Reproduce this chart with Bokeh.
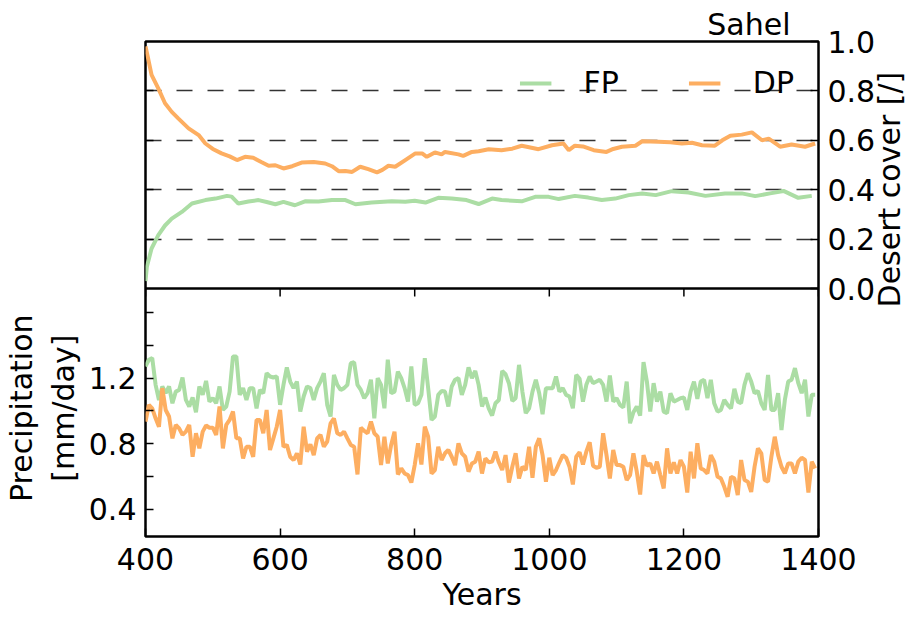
import math
from bokeh.plotting import figure
from bokeh.models import (Range1d, LinearAxis, FixedTicker, Legend, LegendItem, Grid, Span,
                          CustomJSTickFormatter, NumeralTickFormatter)
from bokeh.embed import file_html
from bokeh.resources import INLINE

# ---------------- data ----------------
# Desert cover (top panel)
dp_cover_years = [400, 404, 409, 419, 429, 439, 449, 464, 479, 489, 500, 513, 525, 536, 548, 560,
                  572, 583, 593, 605, 618, 632, 650, 667, 677, 687, 697, 707, 719, 731, 744, 752,
                  761, 771, 786, 801, 811, 818, 830, 840, 845, 865, 872, 885, 895, 910, 929, 945,
                  959, 970, 984, 1004, 1021, 1029, 1038, 1050, 1066, 1085, 1095, 1108, 1128, 1138,
                  1162, 1180, 1197, 1212, 1227, 1246, 1257, 1269, 1286, 1301, 1316, 1326, 1343,
                  1360, 1380, 1395]
dp_cover = [0.98, 0.93, 0.865, 0.81, 0.75, 0.715, 0.688, 0.648, 0.621, 0.587, 0.565, 0.547, 0.535,
            0.520, 0.533, 0.529, 0.512, 0.497, 0.499, 0.486, 0.495, 0.510, 0.512, 0.506, 0.495,
            0.475, 0.476, 0.472, 0.493, 0.483, 0.470, 0.480, 0.497, 0.493, 0.520, 0.547, 0.547,
            0.533, 0.551, 0.543, 0.553, 0.543, 0.537, 0.553, 0.556, 0.564, 0.560, 0.566, 0.578,
            0.572, 0.564, 0.580, 0.587, 0.560, 0.578, 0.575, 0.560, 0.553, 0.565, 0.574, 0.578,
            0.596, 0.594, 0.592, 0.587, 0.590, 0.580, 0.578, 0.600, 0.618, 0.623, 0.632, 0.600,
            0.607, 0.574, 0.583, 0.574, 0.587]

fp_cover_years = [400, 402, 409, 419, 429, 439, 454, 469, 489, 504, 521, 528, 538, 553, 568, 580,
                  593, 605, 622, 637, 657, 677, 697, 712, 736, 766, 786, 800, 816, 835, 855, 877,
                  895, 915, 929, 959, 979, 999, 1014, 1038, 1058, 1078, 1098, 1118, 1138, 1158,
                  1182, 1207, 1232, 1261, 1286, 1306, 1328, 1348, 1370, 1390]
fp_cover = [0.03, 0.088, 0.162, 0.216, 0.255, 0.283, 0.310, 0.344, 0.358, 0.364, 0.375, 0.372,
            0.344, 0.352, 0.358, 0.350, 0.341, 0.351, 0.337, 0.353, 0.352, 0.358, 0.358, 0.341,
            0.348, 0.353, 0.351, 0.355, 0.348, 0.367, 0.364, 0.358, 0.342, 0.364, 0.358, 0.353,
            0.371, 0.371, 0.362, 0.375, 0.368, 0.358, 0.364, 0.378, 0.385, 0.378, 0.394, 0.389,
            0.375, 0.385, 0.385, 0.374, 0.385, 0.395, 0.367, 0.375]

# Precipitation (bottom panel), every 5 years
precip_years = list(range(400, 1400, 5))
fp_precip = [
    1.271, 1.312, 1.322, 1.159, 1.067, 1.149, 1.108, 1.149, 1.047, 1.118,
    1.128, 1.204, 1.067, 1.027, 1.082, 0.992, 1.149, 1.098, 1.183, 1.057,
    1.078, 1.047, 1.149, 1.006, 1.027, 1.118, 1.332, 1.332, 1.098, 1.139,
    1.067, 1.139, 1.139, 1.016, 1.128, 1.108, 1.230, 1.210, 1.204, 1.210,
    1.037, 1.159, 1.265, 1.179, 1.139, 1.179, 0.996, 1.088, 1.149, 1.139,
    1.067,
    1.139, 1.179, 1.230, 1.037, 0.966, 1.220, 1.159, 1.128, 1.139, 1.159,
    1.291, 1.297, 1.159, 1.128, 1.078, 1.108, 1.190, 0.955, 1.200, 1.159,
    1.016, 1.312, 1.108, 1.118, 1.240, 1.200, 1.139, 1.057, 1.271, 1.037,
    1.047, 1.098, 1.322, 1.139, 0.945, 0.966, 1.098, 1.122, 1.118, 1.027,
    1.149, 1.190, 1.200, 1.098, 1.159, 1.265, 1.200, 1.244, 1.159, 1.027,
    1.082,
    1.016, 0.972, 1.047, 1.067, 1.244, 1.224, 1.169, 1.061, 1.078, 1.281,
    1.118, 0.986, 1.016, 1.118, 1.190, 1.108, 0.980, 1.139, 1.139, 1.139,
    1.210, 1.118, 1.139, 1.098, 1.088, 1.016, 1.220, 1.196, 1.057, 1.159,
    1.210, 1.169, 1.179, 1.190, 1.159, 1.057, 1.216, 1.057, 1.078, 1.037,
    1.021, 1.179, 0.925, 0.992, 1.027, 0.972, 1.297, 1.179, 0.996, 1.169,
    1.057, 1.118, 0.996, 0.986, 1.108, 1.057, 1.067, 1.078, 1.082, 1.006,
    1.118, 1.179, 1.073, 1.179, 1.190, 1.078, 1.190, 1.047, 0.996, 1.006,
    1.067, 1.037, 1.016, 1.135, 1.057, 1.047, 1.159, 1.230, 1.179, 1.108,
    1.122, 1.047, 1.006, 1.220, 1.006, 1.006, 1.108, 0.884, 1.067, 1.179,
    1.190, 1.261, 1.169, 1.108, 1.190, 0.966, 1.098, 1.098]
dp_precip = [
    0.935, 1.037, 1.016, 0.955, 0.904, 1.139, 1.006, 0.966, 0.833, 0.915,
    0.894, 0.854, 0.874, 0.915, 0.721, 0.864, 0.772, 0.874, 0.911, 0.898,
    0.898, 0.854, 1.027, 0.772, 0.915, 0.945, 0.996, 0.833, 0.833, 0.711,
    0.782, 0.782, 0.721, 0.945, 0.945, 0.864, 1.006, 0.762, 0.833, 0.904,
    1.006, 0.782, 0.793, 0.721, 0.701, 0.742, 0.674, 0.904, 0.752, 0.797,
    0.731,
    0.833, 0.854, 0.782, 0.813, 0.925, 0.955, 0.864, 0.854, 0.874, 0.833,
    0.793, 0.782, 0.613, 0.898, 0.878, 0.864, 0.935, 0.864, 0.843, 0.670,
    0.843, 0.680, 0.793, 0.874, 0.613, 0.650, 0.619, 0.609, 0.564, 0.670,
    0.803, 0.674, 0.904, 0.843, 0.619, 0.640, 0.782, 0.701, 0.742, 0.762,
    0.721, 0.670, 0.803, 0.742, 0.721, 0.630, 0.680, 0.691, 0.752, 0.619,
    0.711,
    0.687, 0.691, 0.752, 0.687, 0.640, 0.731, 0.564, 0.660, 0.742, 0.589,
    0.660, 0.640, 0.782, 0.593, 0.782, 0.833, 0.731, 0.569, 0.715, 0.609,
    0.640, 0.687, 0.731, 0.715, 0.660, 0.552, 0.721, 0.748, 0.674, 0.752,
    0.809, 0.666, 0.654, 0.660, 0.864, 0.731, 0.589, 0.762, 0.670, 0.670,
    0.660, 0.579, 0.609, 0.742, 0.630, 0.491, 0.731, 0.666, 0.680, 0.619,
    0.691, 0.609, 0.528, 0.772, 0.619, 0.687, 0.619, 0.701, 0.660, 0.503,
    0.752, 0.589, 0.803, 0.650, 0.640, 0.619, 0.731, 0.691, 0.599, 0.589,
    0.538, 0.477, 0.599, 0.589, 0.487, 0.701, 0.579, 0.569, 0.507, 0.660,
    0.772, 0.742, 0.579, 0.569, 0.721, 0.843, 0.731, 0.660, 0.619, 0.680,
    0.680, 0.619, 0.691, 0.715, 0.701, 0.503, 0.691, 0.650]

cover_ticks = [0.0, 0.2, 0.4, 0.6, 0.8, 1.0]
grid_ticks = [0.2, 0.4, 0.6, 0.8]
precip_ticks = [0.4, 0.6, 0.8, 1.0, 1.2, 1.4, 1.6]
precip_labelled = [0.4, 0.8, 1.2]
year_ticks = [400, 600, 800, 1000, 1200, 1400]
cover_title = "Desert cover [/]"
precip_title_lines = ["Precipitation", "[mm/day]"]

# ---------------- styling / layout constants ----------------
FP_COLOR = "#abdda4"
DP_COLOR = "#fdae61"
FONT = "DejaVu Sans"
FS = "30px"
LW = 4
PANEL_PX = 247          # height of each panel in pixels
FRAME_PX = 2 * PANEL_PX + 1
TICK_PX = 8
# the left axis title is centred on the whole frame; trailing no-break spaces
# move its visible part down so that it sits beside the lower panel
PAD = "\u00a0" * 25

blank = CustomJSTickFormatter(code="return '';")

# The frame holds both panels: desert cover 0..1 fills the upper panel,
# precipitation 0.235..1.74 fills the lower panel.
cover_start = 1.0 - FRAME_PX / PANEL_PX
precip_lo, precip_hi = 0.235, 1.74
precip_end = precip_lo + (precip_hi - precip_lo) * FRAME_PX / PANEL_PX

p = figure(frame_width=673, frame_height=FRAME_PX, x_range=Range1d(400, 1400),
           y_range=Range1d(cover_start, 1.0), output_backend="svg", toolbar_location=None,
           x_axis_location=None, y_axis_location=None,
           min_border_left=139, min_border_right=97, min_border_top=41, min_border_bottom=73,
           background_fill_color="white", border_fill_color="white")
p.extra_y_ranges = {"precip": Range1d(precip_lo, precip_end)}
p.outline_line_color = "black"
p.outline_line_width = 2.5

# hide any default grids, then add the dashed grid of the upper panel
for obj in list(p.center):
    if isinstance(obj, Grid):
        obj.visible = False
p.add_layout(Grid(dimension=1, ticker=FixedTicker(ticks=grid_ticks), grid_line_color="#333333",
                  grid_line_width=1.3, grid_line_dash="16 15"))

# separator between the panels
p.add_layout(Span(location=0.0, dimension="width", line_color="black", line_width=2.5))

# x ticks along the top edge of the lower panel
tick_len = TICK_PX / PANEL_PX
p.segment(x0=year_ticks, y0=[0.0] * len(year_ticks), x1=year_ticks,
          y1=[-tick_len] * len(year_ticks), line_color="black", line_width=1.5)

# ---------------- axes ----------------
ra = LinearAxis(ticker=FixedTicker(ticks=cover_ticks), formatter=NumeralTickFormatter(format="0.0"),
                major_label_standoff=9)
p.add_layout(ra, "right")
ra2 = LinearAxis(ticker=FixedTicker(ticks=[0.5]),
                 formatter=CustomJSTickFormatter(args=dict(label=cover_title), code="return label;"),
                 major_label_orientation=math.pi / 2, major_label_standoff=11,
                 major_tick_in=0, major_tick_out=0)
p.add_layout(ra2, "right")

la = LinearAxis(ticker=FixedTicker(ticks=grid_ticks), formatter=blank, major_label_standoff=0)
p.add_layout(la, "left")
ya = LinearAxis(y_range_name="precip", ticker=FixedTicker(ticks=precip_ticks),
                formatter=CustomJSTickFormatter(
                    args=dict(shown=precip_labelled),
                    code="return shown.some(v => Math.abs(v - tick) < 1e-6) ? tick.toFixed(1) : '';"),
                axis_label="\n".join(line + PAD for line in precip_title_lines),
                major_label_standoff=9, axis_label_standoff=5)
p.add_layout(ya, "left")

xa = LinearAxis(ticker=FixedTicker(ticks=year_ticks), axis_label="Years",
                major_label_standoff=11, axis_label_standoff=4)
p.add_layout(xa, "below")

for ax in [ra, ra2, la, ya, xa]:
    ax.axis_line_color = None
    ax.major_tick_out = 0
    ax.major_tick_line_width = 1.5
    ax.major_tick_line_color = "black"
    ax.minor_tick_line_color = None
    ax.major_label_text_font = FONT
    ax.major_label_text_font_size = FS
    ax.major_label_text_color = "black"
    ax.axis_label_text_font = FONT
    ax.axis_label_text_font_style = "normal"
    ax.axis_label_text_font_size = FS
    ax.axis_label_text_color = "black"
for ax in [ra, la, ya, xa]:
    ax.major_tick_in = TICK_PX
ra2.major_tick_line_color = None
la.major_label_text_font_size = "1px"

# ---------------- lines ----------------
r_fp = p.line(fp_cover_years, fp_cover, line_color=FP_COLOR, line_width=LW)
r_dp = p.line(dp_cover_years, dp_cover, line_color=DP_COLOR, line_width=LW)
p.line(precip_years, fp_precip, line_color=FP_COLOR, line_width=LW, y_range_name="precip")
p.line(precip_years, dp_precip, line_color=DP_COLOR, line_width=LW, y_range_name="precip")

legend = Legend(items=[LegendItem(label="FP", renderers=[r_fp]),
                       LegendItem(label="DP", renderers=[r_dp])],
                location="top_right", orientation="horizontal",
                background_fill_alpha=0, border_line_alpha=0,
                glyph_width=32, label_standoff=32, spacing=70, padding=24, margin=0,
                label_text_font=FONT, label_text_font_size=FS, label_text_color="black")
p.add_layout(legend)

p.title.text = "Sahel"
p.title.align = "right"
p.title.offset = 28
p.title.text_font = FONT
p.title.text_font_size = FS
p.title.text_font_style = "normal"
p.title.text_color = "black"
p.title.standoff = 0

open("out.html", "w").write(file_html(p, INLINE))
